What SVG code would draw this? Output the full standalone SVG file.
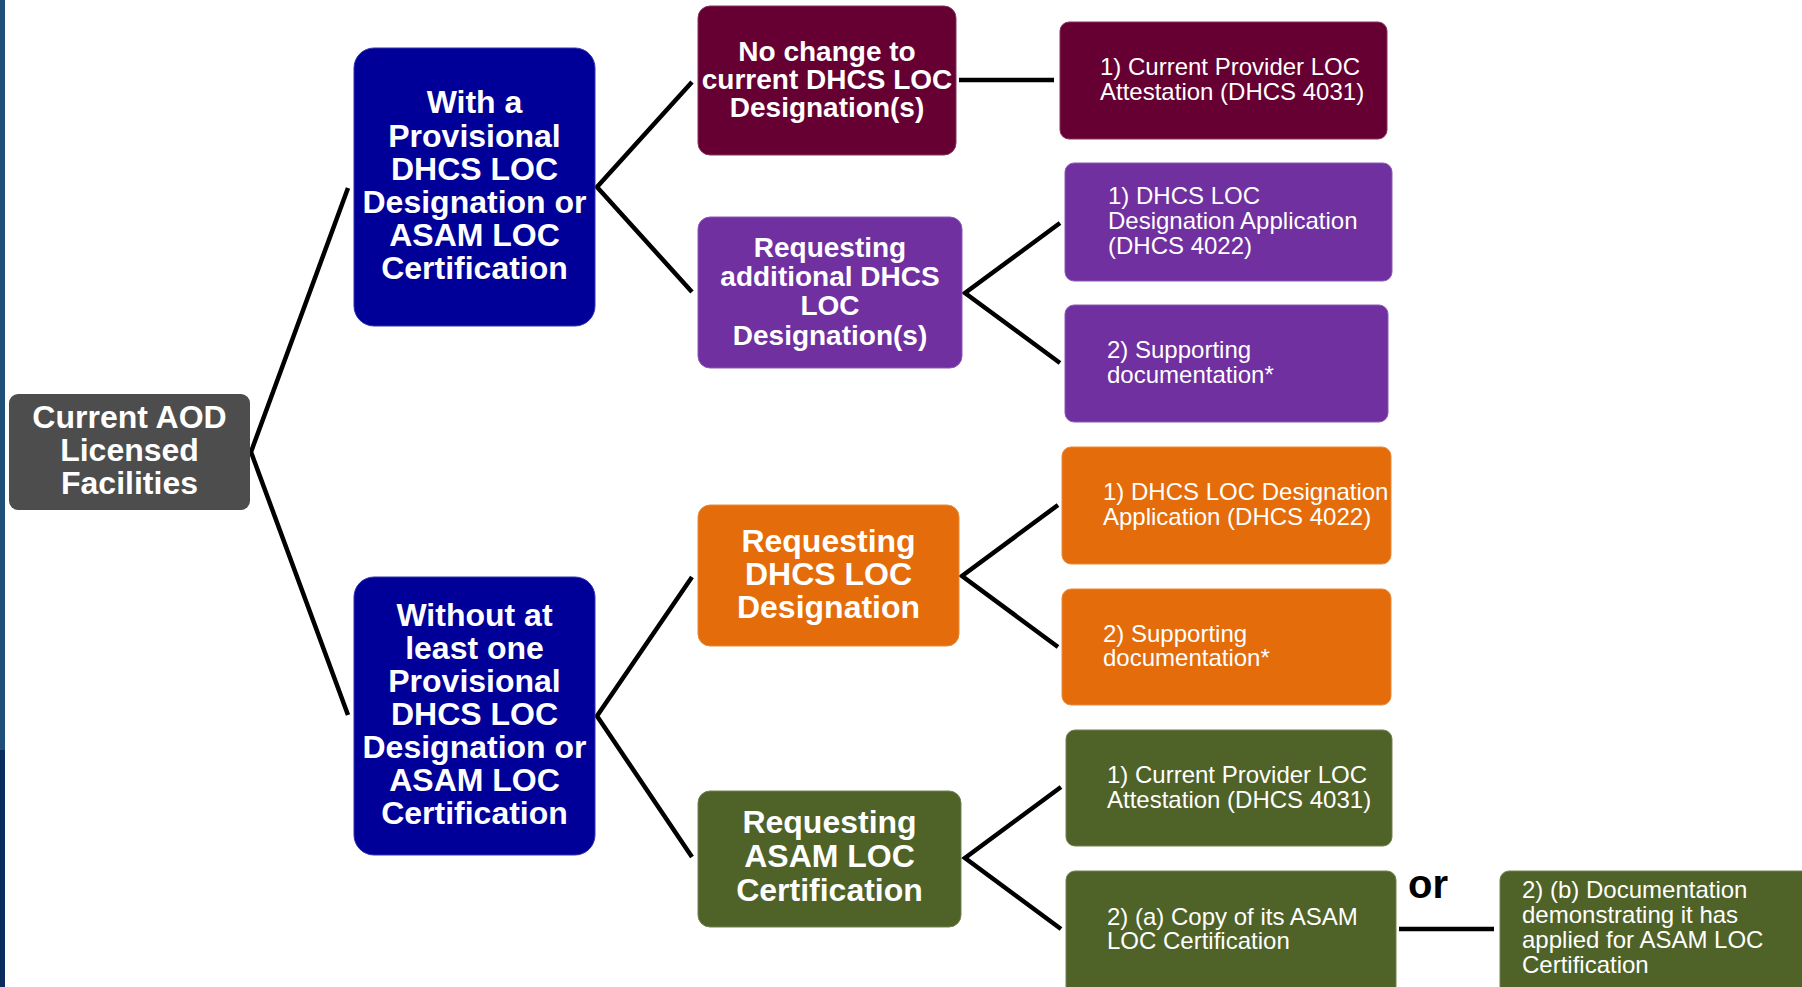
<svg xmlns="http://www.w3.org/2000/svg" width="1802" height="987" viewBox="0 0 1802 987">
<style>
text{font-family:"Liberation Sans",Arial,sans-serif;fill:#fff}
.b{font-weight:bold;text-anchor:middle;font-size:32px}
.b28{font-weight:bold;text-anchor:middle;font-size:28px}
.r{font-size:24px}
.gray{fill:#4D4D4D}
.blue{fill:#000099;stroke:#3333B0;stroke-width:1}
.maroon{fill:#660033;stroke:#85335C;stroke-width:1}
.purple{fill:#7030A0;stroke:#8D59B3;stroke-width:1}
.orange{fill:#E46C0A;stroke:#E98A3B;stroke-width:1}
.green{fill:#4F6228;stroke:#728153;stroke-width:1}
.conn line,.conn polyline{stroke:#000;stroke-width:4.5;fill:none;stroke-linejoin:miter}
.or{font-weight:bold;font-size:40px;fill:#000}
</style>
<rect x="0" y="0" width="1802" height="987" fill="#fff"/>
<rect x="0" y="0" width="5" height="750" fill="#1F4E79"/>
<rect x="0" y="750" width="5" height="237" fill="#0C2B5E"/>

<g id="connectors" class="conn">
<polyline points="348,188 251,452 348,715"/>
<polyline points="692,82 597,187 692,292"/>
<line x1="959" y1="80" x2="1054" y2="80"/>
<polyline points="1060,223 965,293 1060,363"/>
<polyline points="692,577 597,716 692,857"/>
<polyline points="1058,505 962,576 1058,647"/>
<polyline points="1061,787 965,858 1061,929"/>
<line x1="1399" y1="929" x2="1494" y2="929"/>
</g>

<g id="n-root">
<rect class="gray" x="9" y="394" width="241" height="116" rx="9"/>
<text class="b" x="129.5" y="428">Current AOD</text>
<text class="b" x="129.5" y="461">Licensed</text>
<text class="b" x="129.5" y="494">Facilities</text>
</g>

<g id="n-with">
<rect class="blue" x="354" y="48" width="241" height="278" rx="20"/>
<text class="b" x="474.5" y="113">With a</text>
<text class="b" x="474.5" y="146.5">Provisional</text>
<text class="b" x="474.5" y="179.5">DHCS LOC</text>
<text class="b" x="474.5" y="212.5">Designation or</text>
<text class="b" x="474.5" y="245.5">ASAM LOC</text>
<text class="b" x="474.5" y="279">Certification</text>
</g>

<g id="n-without">
<rect class="blue" x="354" y="577" width="241" height="278" rx="20"/>
<text class="b" x="474.5" y="626">Without at</text>
<text class="b" x="474.5" y="659">least one</text>
<text class="b" x="474.5" y="692">Provisional</text>
<text class="b" x="474.5" y="725">DHCS LOC</text>
<text class="b" x="474.5" y="758">Designation or</text>
<text class="b" x="474.5" y="791">ASAM LOC</text>
<text class="b" x="474.5" y="824">Certification</text>
</g>

<g id="n-nochange">
<rect class="maroon" x="698" y="6" width="258" height="149" rx="12"/>
<text class="b28" x="827" y="60.5">No change to</text>
<text class="b28" x="827" y="88.5">current DHCS LOC</text>
<text class="b28" x="827" y="116.5">Designation(s)</text>
</g>

<g id="n-additional">
<rect class="purple" x="698" y="217" width="264" height="151" rx="12"/>
<text class="b28" x="830" y="256.5">Requesting</text>
<text class="b28" x="830" y="286">additional DHCS</text>
<text class="b28" x="830" y="315">LOC</text>
<text class="b28" x="830" y="344.5">Designation(s)</text>
</g>

<g id="n-reqdhcs">
<rect class="orange" x="698" y="505" width="261" height="141" rx="12"/>
<text class="b" x="828.5" y="552">Requesting</text>
<text class="b" x="828.5" y="585">DHCS LOC</text>
<text class="b" x="828.5" y="618">Designation</text>
</g>

<g id="n-reqasam">
<rect class="green" x="698" y="791" width="263" height="136" rx="12"/>
<text class="b" x="829.5" y="833">Requesting</text>
<text class="b" x="829.5" y="867">ASAM LOC</text>
<text class="b" x="829.5" y="901">Certification</text>
</g>

<g id="n-attest1">
<rect class="maroon" x="1060" y="22" width="327" height="117" rx="9"/>
<text class="r" x="1100" y="75">1) Current Provider LOC</text>
<text class="r" x="1100" y="100">Attestation (DHCS 4031)</text>
</g>

<g id="n-app1">
<rect class="purple" x="1065" y="163" width="327" height="118" rx="9"/>
<text class="r" x="1108" y="204">1) DHCS LOC</text>
<text class="r" x="1108" y="229">Designation Application</text>
<text class="r" x="1108" y="254">(DHCS 4022)</text>
</g>

<g id="n-support1">
<rect class="purple" x="1065" y="305" width="323" height="117" rx="9"/>
<text class="r" x="1107" y="358">2) Supporting</text>
<text class="r" x="1107" y="383">documentation*</text>
</g>

<g id="n-app2">
<rect class="orange" x="1062" y="447" width="329" height="117" rx="9"/>
<text class="r" x="1103" y="500">1) DHCS LOC Designation</text>
<text class="r" x="1103" y="525">Application (DHCS 4022)</text>
</g>

<g id="n-support2">
<rect class="orange" x="1062" y="589" width="329" height="116" rx="9"/>
<text class="r" x="1103" y="642">2) Supporting</text>
<text class="r" x="1103" y="666">documentation*</text>
</g>

<g id="n-attest2">
<rect class="green" x="1066" y="730" width="326" height="116" rx="9"/>
<text class="r" x="1107" y="783">1) Current Provider LOC</text>
<text class="r" x="1107" y="808">Attestation (DHCS 4031)</text>
</g>

<g id="n-copy">
<rect class="green" x="1066" y="871" width="330" height="130" rx="9"/>
<text class="r" x="1107" y="925">2) (a) Copy of its ASAM</text>
<text class="r" x="1107" y="949">LOC Certification</text>
</g>

<g id="n-applied">
<rect class="green" x="1500" y="871" width="320" height="130" rx="9"/>
<text class="r" x="1522" y="898">2) (b) Documentation</text>
<text class="r" x="1522" y="923">demonstrating it has</text>
<text class="r" x="1522" y="948">applied for ASAM LOC</text>
<text class="r" x="1522" y="973">Certification</text>
</g>

<text class="or" x="1408" y="898">or</text>
</svg>
